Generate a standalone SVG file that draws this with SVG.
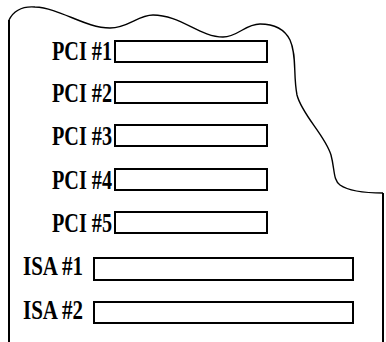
<svg xmlns="http://www.w3.org/2000/svg" width="386" height="342" viewBox="0 0 386 342">
  <style>
    .slot { fill: #fff; stroke: #000; stroke-width: 2; }
    .label { font-family: "Liberation Serif", "DejaVu Serif", serif; font-weight: bold; font-size: 28px; fill: #000; }
    .edge { fill: none; stroke: #000; stroke-width: 2; }
    .torn { fill: none; stroke: #000; stroke-width: 1.4; }
  </style>
  <rect width="386" height="342" fill="#fff"/>

  <!-- board outline: straight sides with a torn top edge -->
  <g id="connectors">
    <path class="edge" d="M9,20 V342"/>
    <path class="edge" d="M383,193 V342"/>
    <path class="torn" d="M9,20 C14,10 22,6 35,7 C60,8 85,28 110,28 C128,28 138,15 153,15 C180,15 200,37 223,37 C238,37 245,24 260,24 C275,24 285,30 290,40 C297,55 293,75 297,95 C302,115 325,135 331,155 C335,170 333,180 340,185 C350,192 370,193 383,193"/>
  </g>

  <!-- PCI slots -->
  <g id="pci1">
    <rect class="slot" x="115" y="41" width="152" height="21"/>
    <text class="label" x="112" y="60" text-anchor="end" textLength="60" lengthAdjust="spacingAndGlyphs">PCI #1</text>
  </g>
  <g id="pci2">
    <rect class="slot" x="115" y="82" width="152" height="21"/>
    <text class="label" x="112" y="102" text-anchor="end" textLength="60" lengthAdjust="spacingAndGlyphs">PCI #2</text>
  </g>
  <g id="pci3">
    <rect class="slot" x="115" y="125" width="152" height="21"/>
    <text class="label" x="112" y="145" text-anchor="end" textLength="60" lengthAdjust="spacingAndGlyphs">PCI #3</text>
  </g>
  <g id="pci4">
    <rect class="slot" x="115" y="169" width="152" height="21"/>
    <text class="label" x="112" y="189" text-anchor="end" textLength="60" lengthAdjust="spacingAndGlyphs">PCI #4</text>
  </g>
  <g id="pci5">
    <rect class="slot" x="115" y="212" width="152" height="21"/>
    <text class="label" x="112" y="232" text-anchor="end" textLength="60" lengthAdjust="spacingAndGlyphs">PCI #5</text>
  </g>

  <!-- ISA slots -->
  <g id="isa1">
    <rect class="slot" x="94" y="258" width="259" height="22"/>
    <text class="label" x="23" y="275" textLength="60" lengthAdjust="spacingAndGlyphs">ISA #1</text>
  </g>
  <g id="isa2">
    <rect class="slot" x="94" y="302" width="259" height="21"/>
    <text class="label" x="23" y="319" textLength="60" lengthAdjust="spacingAndGlyphs">ISA #2</text>
  </g>
</svg>
